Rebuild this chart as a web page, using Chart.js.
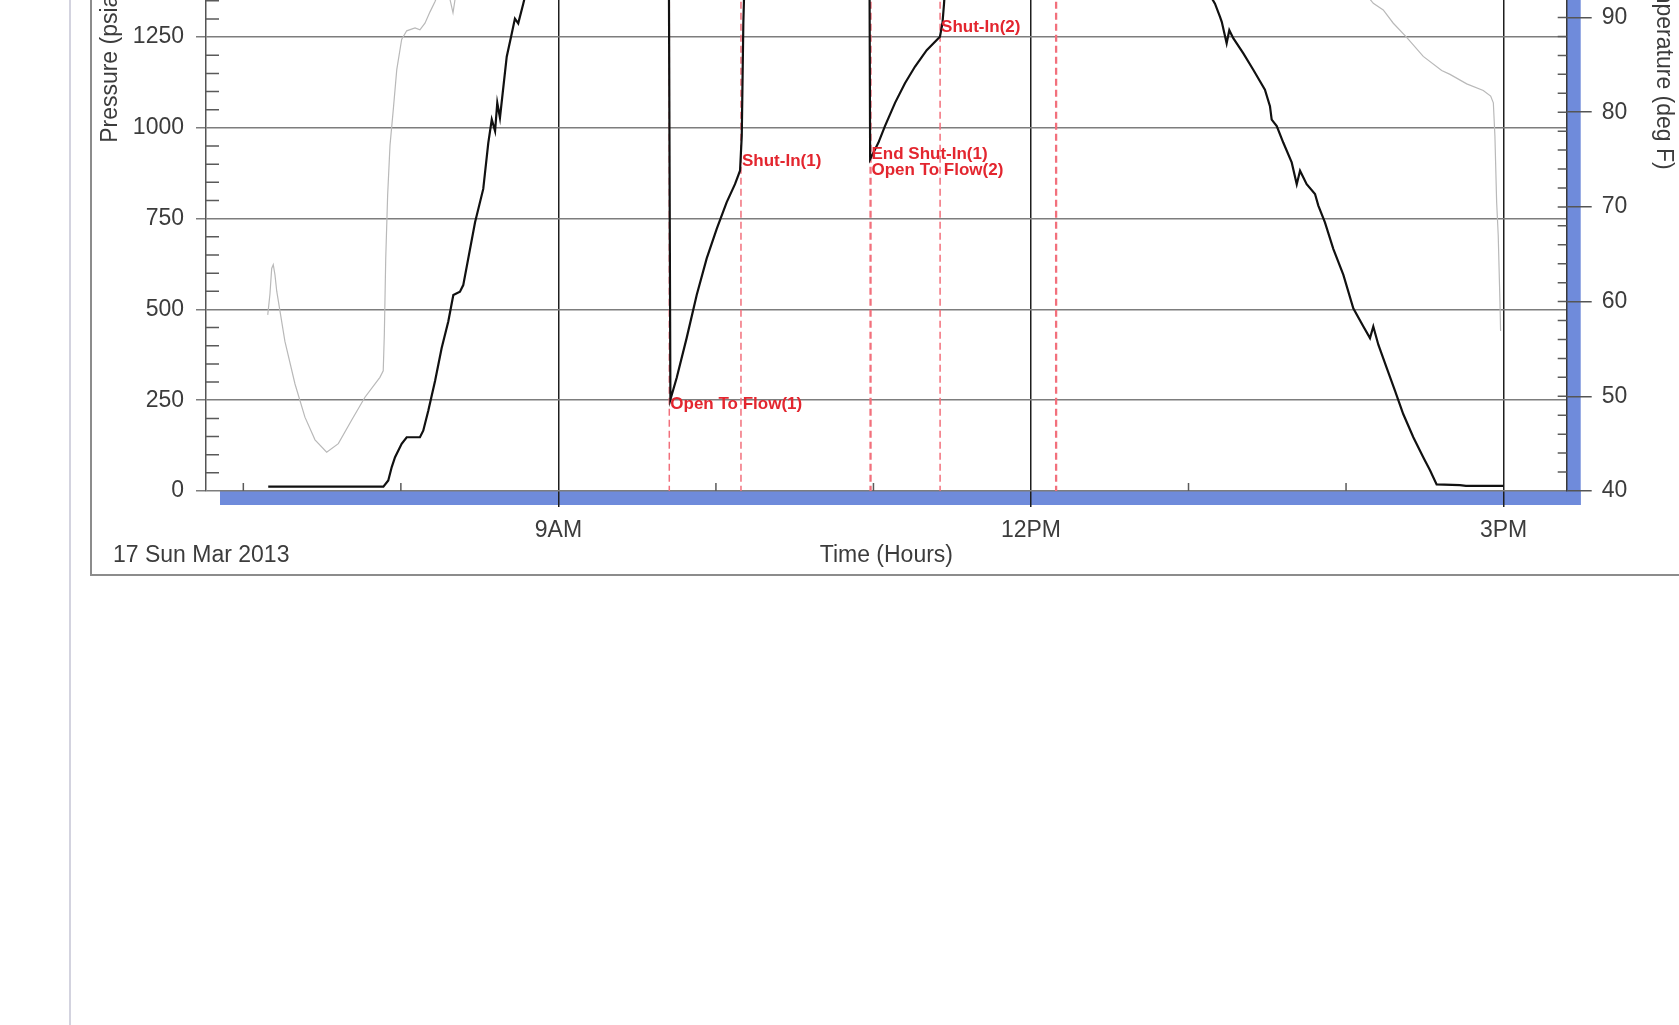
<!DOCTYPE html>
<html lang="en">
<head>
    <meta charset="UTF-8">
    <title>Gauge Pressure and Temperature</title>
    <script src="https://cdn.jsdelivr.net/npm/chart.js"></script>
    <style>
        body {
            margin: 0;
            width: 1679px;
            height: 1025px;
            overflow: hidden;
            position: relative;
            background: #fff;
            font-family: 'Liberation Sans', Arial, sans-serif;
        }
        .side-rule {
            position: absolute;
            left: 69px;
            top: 0;
            width: 2px;
            height: 1025px;
            background: #d3d3df;
        }
        .frame {
            position: absolute;
            left: 90px;
            top: -20px;
            width: 1700px;
            height: 594px;
            border-left: 2px solid #8c8c8c;
            border-bottom: 2px solid #8c8c8c;
        }
        #wrap {
            position: absolute;
            left: 0;
            top: -387px;
        }
        .date {
            position: absolute;
            left: 113px;
            top: 540px;
            font-size: 23px;
            line-height: 28px;
            color: #3c3c3c;
        }
    </style>
</head>
<body>
    <div class="side-rule"></div>
    <div class="frame"></div>
    <div id="wrap">
        <canvas id="grafico" width="1679" height="959"></canvas>
    </div>
    <div class="date" id="fecha"></div>
    <script>
        // time in decimal hours of the day
        const testDate = '17 Sun Mar 2013';
        const majorHours = [9, 12, 15];
        const majorHourLabels = ['9AM', '12PM', '3PM'];

        const pressureHours = [
            7.158, 7.889, 7.920, 7.942, 7.963, 8.005, 8.037, 8.121, 8.142, 8.174,
            8.217, 8.259, 8.301, 8.333, 8.375, 8.396, 8.471, 8.523, 8.555, 8.577,
            8.598, 8.612, 8.629, 8.672, 8.704, 8.724, 8.745, 8.777, 8.830, 8.900,
            9.000, 9.300, 9.700, 9.711, 9.751, 9.814, 9.878, 9.941, 10.005, 10.068,
            10.121, 10.153, 10.164, 10.174, 10.181, 10.200, 10.300, 10.500, 10.974, 10.979,
            11.031, 11.073, 11.137, 11.200, 11.264, 11.338, 11.422, 11.438, 11.448, 11.460,
            11.550, 11.800, 12.150, 12.170, 12.600, 12.850, 12.960, 13.050, 13.168, 13.200,
            13.211, 13.242, 13.259, 13.284, 13.348, 13.411, 13.485, 13.517, 13.528, 13.560,
            13.602, 13.655, 13.687, 13.708, 13.750, 13.803, 13.824, 13.866, 13.919, 13.983,
            14.046, 14.110, 14.152, 14.173, 14.205, 14.258, 14.311, 14.363, 14.427, 14.490,
            14.533, 14.575, 14.723, 14.761, 15.000
        ];
        const pressurePsia = [
            12, 12, 29, 66, 93, 130, 148, 148, 166, 221,
            303, 394, 467, 540, 549, 567, 740, 832, 959, 1023,
            991, 1069, 1028, 1196, 1260, 1301, 1288, 1342, 1440, 1520,
            1570, 1590, 1592, 252, 312, 421, 540, 640, 722, 795,
            845, 882, 978, 1288, 1400, 1470, 1510, 1535, 1550, 914,
            959, 1005, 1069, 1123, 1169, 1214, 1251, 1288, 1342, 1420,
            1480, 1520, 1540, 1600, 1600, 1575, 1500, 1430, 1342, 1306,
            1292, 1233, 1269, 1247, 1205, 1160, 1105, 1060, 1023, 1005,
            959, 905, 845, 882, 845, 818, 786, 740, 667, 595,
            503, 453, 421, 453, 403, 339, 276, 212, 148, 93,
            57, 18, 16, 14, 14
        ];

        const tempHours = [
            7.155, 7.169, 7.180, 7.190, 7.201, 7.212, 7.264, 7.328, 7.391, 7.455,
            7.529, 7.603, 7.688, 7.772, 7.867, 7.888, 7.895, 7.904, 7.916, 7.931,
            7.952, 7.974, 8.005, 8.037, 8.090, 8.121, 8.153, 8.185, 8.217, 8.261,
            8.300, 8.331, 8.352, 8.450, 8.800, 9.500, 11.000, 12.500, 13.500, 14.000,
            14.100, 14.173, 14.236, 14.300, 14.385, 14.490, 14.607, 14.660, 14.766, 14.871,
            14.918, 14.935, 14.945, 14.956, 14.966, 14.977, 14.981
        ];
        const tempDegF = [
            58.6, 60.8, 63.5, 63.9, 62.8, 61.1, 55.8, 51.3, 47.8, 45.4,
            44.1, 45.0, 47.5, 49.9, 52.0, 52.7, 56.5, 64.6, 71.2, 76.5,
            80.3, 84.5, 87.7, 88.6, 88.9, 88.7, 89.4, 90.6, 91.7, 93.5,
            92.8, 90.5, 92.8, 95.0, 98.0, 100.0, 101.0, 101.0, 99.0, 95.5,
            93.0, 91.5, 90.8, 89.4, 87.9, 85.9, 84.4, 84.0, 83.0, 82.3,
            81.7, 81.0, 77.5, 70.5, 67.0, 60.0, 56.9
        ];

        // test events (dashed markers)
        const eventHours = [9.704, 10.159, 10.979, 10.984, 11.423, 12.157, 12.162];
        const eventLabelText = ['Open To Flow(1)', 'Shut-In(1)', 'End Shut-In(1)', 'Open To Flow(2)', 'Shut-In(2)'];
        const eventLabelHours = [9.704, 10.159, 10.981, 10.981, 11.423];
        const eventLabelPsia = [239, 907, 927, 883, 1277];

        document.getElementById('fecha').textContent = testDate;

        Chart.defaults.font.family = "'Liberation Sans', Arial, sans-serif";
        Chart.defaults.font.size = 23;
        Chart.defaults.color = '#3c3c3c';

        const decoraciones = {
            id: 'decoraciones',
            beforeDraw(chart) {
                const {ctx, chartArea: a} = chart;
                ctx.save();
                ctx.fillStyle = '#6f8bdb';
                ctx.fillRect(a.left + 14, a.bottom, a.right - a.left, 14);
                ctx.fillRect(a.right, a.top, 14, a.bottom - a.top + 14);
                ctx.restore();
            },
            beforeDatasetsDraw(chart) {
                const {ctx, chartArea: a, scales} = chart;
                const x = scales.x, yP = scales.yP, yT = scales.yT;
                ctx.save();
                ctx.strokeStyle = '#5a5a5a';
                ctx.lineWidth = 1.5;
                ctx.beginPath();
                for (let v = 50; v < yP.max; v += 50) {
                    if (v % 250 === 0) continue;
                    const py = yP.getPixelForValue(v);
                    ctx.moveTo(a.left, py);
                    ctx.lineTo(a.left + 13, py);
                }
                for (let v = yT.min + 2; v < yT.max; v += 2) {
                    const py = yT.getPixelForValue(v);
                    ctx.moveTo(a.right - 9, py);
                    ctx.lineTo(a.right, py);
                }
                for (let h = Math.ceil(x.min); h <= x.max; h++) {
                    if (majorHours.includes(h)) continue;
                    const px = x.getPixelForValue(h);
                    ctx.moveTo(px, a.bottom);
                    ctx.lineTo(px, a.bottom - 8);
                }
                ctx.stroke();

                ctx.strokeStyle = '#f2707c';
                ctx.lineWidth = 1.5;
                ctx.setLineDash([7, 4]);
                ctx.beginPath();
                eventHours.forEach(h => {
                    const px = x.getPixelForValue(h);
                    ctx.moveTo(px, a.top);
                    ctx.lineTo(px, a.bottom);
                });
                ctx.stroke();
                ctx.restore();
            },
            afterDatasetsDraw(chart) {
                const {ctx, scales} = chart;
                ctx.save();
                ctx.font = "bold 17px 'Liberation Sans', Arial, sans-serif";
                ctx.fillStyle = '#e3262f';
                ctx.textBaseline = 'middle';
                eventLabelText.forEach((txt, i) => {
                    const px = scales.x.getPixelForValue(eventLabelHours[i]) + 1;
                    const py = scales.yP.getPixelForValue(eventLabelPsia[i]);
                    ctx.fillText(txt, px, py);
                });
                ctx.restore();
            }
        };

        const ctx = document.getElementById('grafico').getContext('2d');
        const chart = new Chart(ctx, {
            type: 'line',
            data: {
                datasets: [{
                    label: 'Pressure (psia)',
                    data: pressureHours.map((h, i) => ({x: h, y: pressurePsia[i]})),
                    yAxisID: 'yP',
                    borderColor: '#111',
                    borderWidth: 2.2,
                    pointRadius: 0,
                    tension: 0
                }, {
                    label: 'Temperature (deg F)',
                    data: tempHours.map((h, i) => ({x: h, y: tempDegF[i]})),
                    yAxisID: 'yT',
                    borderColor: '#b9b9b9',
                    borderWidth: 1.2,
                    pointRadius: 0,
                    tension: 0
                }]
            },
            options: {
                responsive: false,
                animation: false,
                devicePixelRatio: 1,
                events: [],
                layout: {padding: {top: 16, left: 0, right: 0, bottom: 0}},
                plugins: {
                    legend: {display: false},
                    tooltip: {enabled: false}
                },
                scales: {
                    x: {
                        type: 'linear',
                        min: 6.763,
                        max: 15.4007,
                        ticks: {
                            stepSize: 1,
                            autoSkip: false,
                            includeBounds: false,
                            maxRotation: 0,
                            padding: 10,
                            callback: v => {
                                const i = majorHours.indexOf(v);
                                return i >= 0 ? majorHourLabels[i] : '';
                            }
                        },
                        grid: {
                            color: c => (c.tick && majorHours.includes(c.tick.value)) ? '#1e1e1e' : 'rgba(0,0,0,0)',
                            lineWidth: 1.5,
                            tickLength: 16
                        },
                        border: {display: false},
                        title: {display: true, text: 'Time (Hours)', padding: {top: 0, bottom: 3}},
                        afterFit: s => { s.height = 81; }
                    },
                    yP: {
                        type: 'linear',
                        position: 'left',
                        min: 0,
                        max: 2347,
                        ticks: {stepSize: 250, includeBounds: false, padding: 12, callback: v => String(v)},
                        grid: {color: '#7d7d7d', lineWidth: 1.5, tickLength: 10},
                        border: {color: '#555', width: 1.5},
                        title: {display: true, text: 'Pressure (psia)', padding: {top: 97, bottom: 0}},
                        afterFit: s => { s.width = 206; }
                    },
                    yT: {
                        type: 'linear',
                        position: 'right',
                        min: 40,
                        max: 130,
                        ticks: {stepSize: 10, includeBounds: false, padding: 10},
                        grid: {drawOnChartArea: false, color: '#555', lineWidth: 1.5, tickLength: 25},
                        border: {color: '#3a3a3a', width: 1.5},
                        title: {display: true, text: 'Temperature (deg F)', padding: {top: 2, bottom: 0}},
                        afterFit: s => { s.width = 112.3; }
                    }
                }
            },
            plugins: [decoraciones]
        });
    </script>
</body>
</html>
